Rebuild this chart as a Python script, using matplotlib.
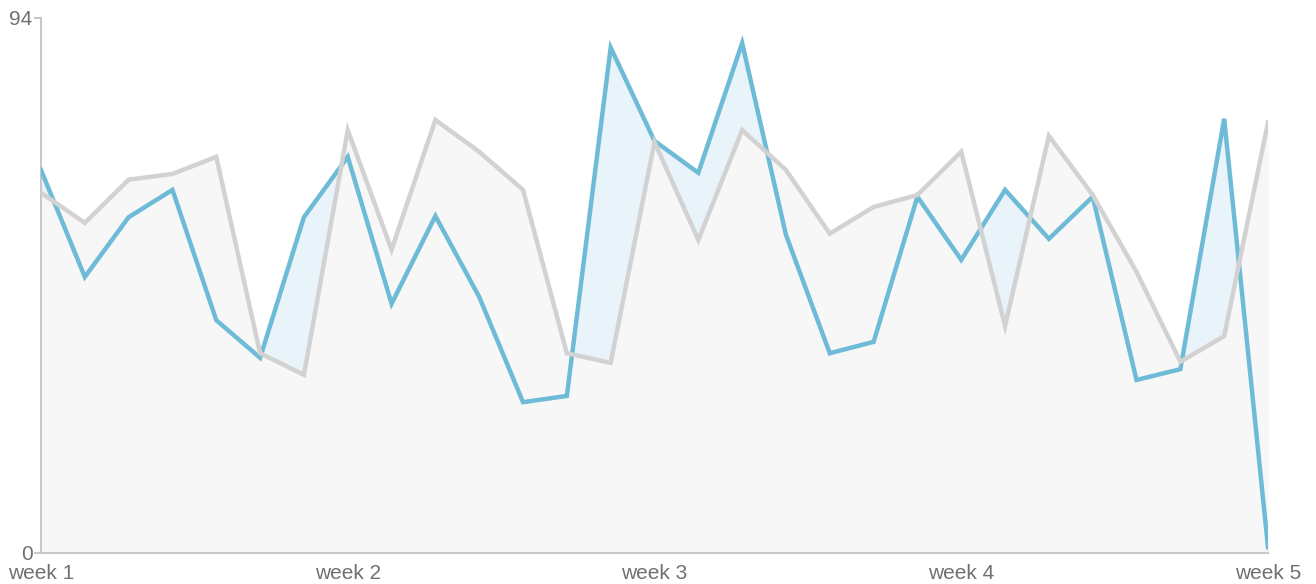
import numpy as np
import matplotlib.pyplot as plt

plt.rcParams['font.family'] = ['Liberation Sans', 'DejaVu Sans']

week_labels = ['week 1', 'week 2', 'week 3', 'week 4', 'week 5']
blue = [67.3, 48.5, 59.0, 63.8, 40.9, 34.3, 59.0, 69.6, 43.8, 59.2,
        45.0, 26.5, 27.6, 88.8, 72.4, 66.8, 89.6, 55.9, 35.1, 37.1,
        62.6, 51.5, 63.8, 55.2, 62.6, 30.4, 32.3, 76.3, 1.0]
gray = [63.3, 58.0, 65.6, 66.6, 69.6, 35.1, 31.3, 74.3, 53.3, 76.1,
        70.5, 63.8, 35.1, 33.4, 72.2, 55.0, 74.3, 67.3, 56.1, 60.8,
        62.9, 70.5, 39.9, 73.3, 62.9, 49.4, 33.6, 38.1, 75.7]
y_max = 94

x = np.arange(len(blue))

fig = plt.figure(figsize=(13.16, 5.84), dpi=100)
ax = fig.add_axes([41 / 1316, 31 / 584, 1227 / 1316, 535 / 584])

ax.fill_between(x, 0, blue, color='#e9f3fa', lw=0, zorder=1)
ax.fill_between(x, 0, gray, color='#f7f7f7', lw=0, zorder=2)
ax.plot(x, blue, color='#6dbbd6', lw=3.2, zorder=3, solid_joinstyle='miter')
ax.plot(x, gray, color='#d2d2d2', lw=3.2, zorder=4, solid_joinstyle='miter')

ax.set_xlim(0, len(blue) - 1)
ax.set_ylim(0, y_max)
ax.set_xticks(np.arange(0, len(blue), 7))
ax.set_xticklabels(week_labels)
ax.set_yticks([0, y_max])

for side in ['top', 'right']:
    ax.spines[side].set_visible(False)
for side in ['left', 'bottom']:
    ax.spines[side].set_color('#c8c8c8')
    ax.spines[side].set_linewidth(1.5)

ax.tick_params(axis='y', length=5, width=1.5, color='#c8c8c8',
               labelsize=15, labelcolor='#707070', pad=1)
ax.tick_params(axis='x', length=0, labelsize=15, labelcolor='#707070', pad=8)

fig.savefig('out.png', dpi=100)
